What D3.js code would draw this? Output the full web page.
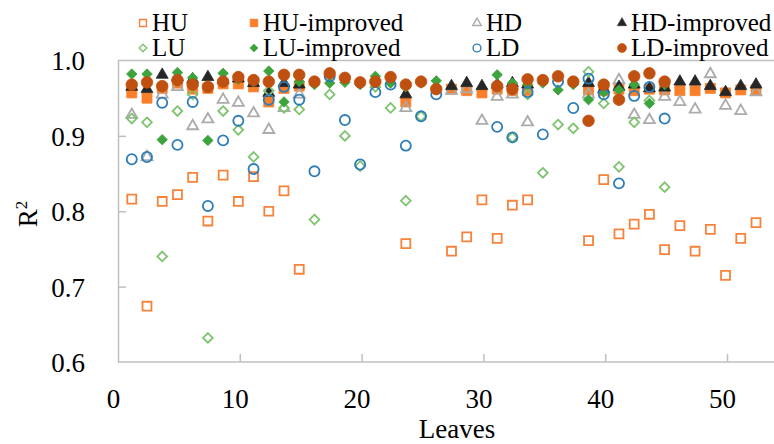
<!DOCTYPE html>
<html>
<head>
<meta charset="utf-8">
<script src="https://cdn.jsdelivr.net/npm/d3@7"></script>
<style>
  body { margin: 0; background: #fff; }
  text { font-family: "Liberation Serif", "Times New Roman", serif; fill: #000; }
</style>
</head>
<body>
<div id="chart"></div>
<script>
// leaf positions of the H (HU/HD) and L (LU/LD) runs
var leavesH = [1.13, 2.38, 3.63, 4.88, 6.13, 7.38, 8.63, 9.88, 11.13, 12.38, 13.63, 14.88,
               23.63, 27.38, 28.63, 29.88, 31.13, 32.38, 33.63,
               38.63, 39.88, 41.13, 42.38, 43.63, 44.88, 46.13, 47.38, 48.63, 49.88, 51.13, 52.38];
var leavesL = [1.13, 2.38, 3.63, 4.88, 6.13, 7.38, 8.63, 9.88, 11.13, 12.38, 13.63, 14.88,
               16.13, 17.38, 18.63, 19.88, 21.13, 22.38, 23.63, 24.88, 26.13,
               31.13, 32.38, 33.63, 34.88, 36.13, 37.38, 38.63, 39.88, 41.13, 42.38, 43.63, 44.88];

var HU = [0.816, 0.674, 0.813, 0.822, 0.845, 0.787, 0.848, 0.813, 0.846, 0.800, 0.827, 0.723,
          0.757, 0.747, 0.766, 0.815, 0.764, 0.808, 0.815,
          0.761, 0.842, 0.770, 0.783, 0.796, 0.749, 0.781, 0.747, 0.776, 0.715, 0.764, 0.785];
var HUimproved = [0.957, 0.950, 0.963, 0.970, 0.962, 0.963, 0.969, 0.969, 0.965, 0.945, 0.963, 0.966,
          0.945, 0.962, 0.960, 0.957, 0.962, 0.960, 0.960,
          0.961, 0.960, 0.962, 0.960, 0.962, 0.961, 0.960, 0.960, 0.963, 0.957, 0.961, 0.961];
var HD = [0.928, 0.872, 0.955, 0.965, 0.913, 0.922, 0.948, 0.944, 0.930, 0.908, 0.937, 0.955,
          0.937, 0.960, 0.962, 0.920, 0.952, 0.955, 0.918,
          0.955, 0.962, 0.974, 0.928, 0.921, 0.952, 0.945, 0.935, 0.982, 0.940, 0.933, 0.958];
var HDimproved = [0.965, 0.962, 0.981, 0.978, 0.975, 0.978, 0.974, 0.976, 0.970, 0.957, 0.970, 0.968,
          0.955, 0.966, 0.970, 0.966, 0.968, 0.970, 0.968,
          0.970, 0.962, 0.965, 0.968, 0.963, 0.964, 0.972, 0.972, 0.966, 0.958, 0.966, 0.968];

var LU = [0.923, 0.918, 0.740, 0.933, 0.955, 0.632, 0.933, 0.908, 0.872, 0.960, 0.937, 0.935,
          0.789, 0.955, 0.900, 0.860, 0.965, 0.937, 0.814, 0.926, 0.965,
          0.965, 0.898, 0.955, 0.851, 0.915, 0.910, 0.985, 0.943, 0.859, 0.918, 0.947, 0.832];
var LUimproved = [0.982, 0.982, 0.895, 0.984, 0.977, 0.894, 0.983, 0.975, 0.972, 0.986, 0.945, 0.972,
          0.968, 0.970, 0.971, 0.968, 0.979, 0.970, 0.965, 0.970, 0.973,
          0.981, 0.970, 0.968, 0.970, 0.961, 0.968, 0.948, 0.958, 0.961, 0.968, 0.943, 0.968];
var LD = [0.869, 0.872, 0.944, 0.888, 0.945, 0.807, 0.894, 0.920, 0.856, 0.948, 0.965, 0.948,
          0.853, 0.979, 0.921, 0.862, 0.958, 0.968, 0.887, 0.926, 0.955,
          0.912, 0.898, 0.958, 0.902, 0.972, 0.937, 0.976, 0.955, 0.837, 0.953, 0.965, 0.923];
var LDimproved = [0.968, 0.971, 0.966, 0.974, 0.968, 0.965, 0.972, 0.978, 0.974, 0.972, 0.981, 0.981,
          0.972, 0.983, 0.977, 0.971, 0.972, 0.978, 0.968, 0.972, 0.962,
          0.966, 0.962, 0.975, 0.974, 0.979, 0.972, 0.920, 0.968, 0.948, 0.979, 0.983, 0.972];

var xTicks = [0, 10, 20, 30, 40, 50];
var yTicks = [0.6, 0.7, 0.8, 0.9, 1.0];

var series = [
  {name: "HU",          x: leavesH, y: HU,         shape: d3.symbolSquare,   size: 80, color: "#F8823A", filled: false},
  {name: "HU-improved", x: leavesH, y: HUimproved, shape: d3.symbolSquare,   size: 100, color: "#F97F2A", filled: true},
  {name: "HD",          x: leavesH, y: HD,         shape: d3.symbolTriangle, size: 52, color: "#ABABAB", filled: false},
  {name: "HD-improved", x: leavesH, y: HDimproved, shape: d3.symbolTriangle, size: 62, color: "#262626", filled: true},
  {name: "LU",          x: leavesL, y: LU,         shape: d3.symbolDiamond2, size: 60, color: "#7EC46E", filled: false},
  {name: "LU-improved", x: leavesL, y: LUimproved, shape: d3.symbolDiamond2, size: 70, color: "#3DA33D", filled: true},
  {name: "LD",          x: leavesL, y: LD,         shape: d3.symbolCircle,   size: 80, color: "#2E7DB8", filled: false},
  {name: "LD-improved", x: leavesL, y: LDimproved, shape: d3.symbolCircle,   size: 105, color: "#C0500F", filled: true}
];

var width = 774, height = 444;

var x = d3.scaleLinear().domain([0, 54]).range([118, 118 + 54 * 12.18]);
var y = d3.scaleLinear().domain([0.6, 1.0]).range([362, 60.5]);

var svg = d3.select("#chart").append("svg")
    .attr("width", width)
    .attr("height", height);

svg.append("rect").attr("width", width).attr("height", height).attr("fill", "#fff");

// plot border (top) and axes
svg.append("line")
    .attr("x1", x(0)).attr("x2", width)
    .attr("y1", y(1.0)).attr("y2", y(1.0))
    .attr("stroke", "#BFBFBF").attr("stroke-width", 1.5);

var xAxis = d3.axisBottom(x).tickValues(xTicks).tickSizeInner(-8).tickSizeOuter(0);
var yAxis = d3.axisLeft(y).tickValues(yTicks).tickSizeInner(-8).tickSizeOuter(0)
    .tickFormat(d3.format(".1f"));

var gx = svg.append("g")
    .attr("transform", "translate(0," + y(0.6) + ")")
    .call(xAxis);
gx.select(".domain").attr("d", "M" + x(0) + ",0H" + width);
gx.selectAll("text")
    .attr("dy", null).attr("y", 46)
    .attr("dx", -5)
    .style("font-size", "27px");

var gy = svg.append("g")
    .attr("transform", "translate(" + x(0) + ",0)")
    .call(yAxis);
gy.selectAll("text")
    .attr("x", -33)
    .attr("dy", "0.35em")
    .style("font-size", "27px");

svg.selectAll(".domain, .tick line")
    .attr("stroke", "#BFBFBF").attr("stroke-width", 1.5);
gx.selectAll(".tick").filter(function(d) { return d === 0; }).select("line").remove();
gy.selectAll(".tick").filter(function(d) { return d === 0.6 || d === 1.0; }).select("line").remove();

// axis titles
svg.append("text")
    .attr("x", 457).attr("y", 438)
    .attr("text-anchor", "middle")
    .style("font-size", "27px")
    .text("Leaves");

var rt = svg.append("text")
    .attr("transform", "translate(37,214) rotate(-90)")
    .attr("text-anchor", "middle")
    .style("font-size", "27px");
rt.append("tspan").text("R");
rt.append("tspan").attr("dy", -10).style("font-size", "17px").text("2");

// points
series.forEach(function(s) {
  var pts = s.x.map(function(v, i) { return {x: v, y: s.y[i]}; });
  svg.append("g").selectAll("path")
      .data(pts)
    .enter().append("path")
      .attr("transform", function(d) { return "translate(" + x(d.x) + "," + y(d.y) + ")"; })
      .attr("d", d3.symbol().type(s.shape).size(s.size))
      .attr("fill", s.filled ? s.color : "none")
      .attr("stroke", s.color)
      .attr("stroke-width", s.filled ? 0.8 : 1.8);
});

// legend, 4 columns x 2 rows
var legX = [143, 254, 477, 622];
var legY = [23, 48];
series.forEach(function(s, i) {
  var lx = legX[i % 4], ly = legY[Math.floor(i / 4)];
  var g = svg.append("g").attr("transform", "translate(" + lx + "," + ly + ")");
  g.append("path")
      .attr("d", d3.symbol().type(s.shape).size(s.size * 0.6))
      .attr("fill", s.filled ? s.color : "none")
      .attr("stroke", s.color)
      .attr("stroke-width", s.filled ? 0.6 : 1.4);
  g.append("text")
      .attr("x", 9).attr("y", 8)
      .style("font-size", "25px")
      .text(s.name);
});
</script>
</body>
</html>
